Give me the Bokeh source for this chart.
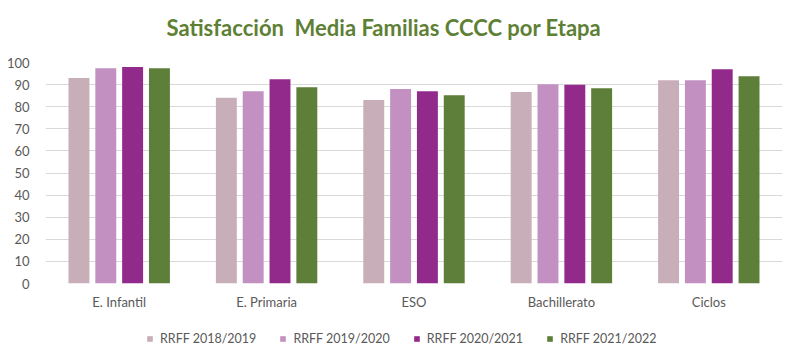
from bokeh.plotting import figure
from bokeh.layouts import column
from bokeh.models import (ColumnDataSource, FactorRange, Legend, LegendItem, SingleIntervalTicker,
                          Label, Range1d)
from bokeh.transform import dodge
from bokeh.embed import file_html
from bokeh.resources import INLINE

categories = ["E. Infantil", "E. Primaria", "ESO", "Bachillerato", "Ciclos"]
series_names = ["RRFF 2018/2019", "RRFF 2019/2020", "RRFF 2020/2021", "RRFF 2021/2022"]
s2018 = [93, 84, 83, 86.6, 92]
s2019 = [97.4, 87, 88, 90.2, 92]
s2020 = [98, 92.4, 87, 89.9, 97]
s2021 = [97.4, 88.8, 85.2, 88.4, 93.8]
colors = ["#C8AEB8", "#C291C2", "#922A8C", "#5E7F39"]
title_text = "Satisfacción\u00a0 Media Familias CCCC por Etapa"

FONT = "Lato"
W = 790

# --- title strip (its frame is aligned with the chart frame: x 45..782) ---
pt = figure(width=W, height=50, x_range=Range1d(45, 782), y_range=Range1d(50, 0),
            x_axis_type=None, y_axis_type=None, output_backend="svg",
            toolbar_location=None, min_border=0)
pt.outline_line_color = None
pt.add_layout(Label(x=166, y=27, text=title_text, text_font=FONT, text_font_size="22px",
                    text_font_style="bold", text_color="#5E8035", text_align="left",
                    text_baseline="alphabetic"))

# --- main chart ---
source = ColumnDataSource(dict(cat=categories, a=s2018, b=s2019, c=s2020, d=s2021))
p = figure(x_range=FactorRange(*categories), y_range=(0, 100),
           frame_width=737, frame_height=221,
           output_backend="svg", toolbar_location=None,
           min_border_left=45, min_border_right=8, min_border_top=12, min_border_bottom=30)
p.outline_line_color = None

offsets = [-0.273, -0.091, 0.091, 0.273]
for key, off, col in zip(["a", "b", "c", "d"], offsets, colors):
    p.vbar(x=dodge("cat", off, range=p.x_range), top=key, width=0.142,
           source=source, fill_color=col, line_color=None)

p.x_range.range_padding = 0
p.yaxis.ticker = SingleIntervalTicker(interval=10)
p.ygrid.grid_line_color = "#D9D9D9"
p.xgrid.grid_line_color = None
for ax in (p.xaxis[0], p.yaxis[0]):
    ax.axis_line_color = None
    ax.major_tick_line_color = None
    ax.minor_tick_line_color = None
    ax.major_label_text_font = FONT
    ax.major_label_text_color = "#595959"
    ax.major_label_text_font_size = "13px"
p.yaxis.major_label_standoff = 10
p.xaxis.major_label_standoff = 4

# --- legend strip ---
pl = figure(width=W, height=40, x_range=Range1d(0, 1), y_range=Range1d(0, 1),
            x_axis_type=None, y_axis_type=None, output_backend="svg",
            toolbar_location=None, min_border=0)
pl.outline_line_color = None
nan = float("nan")
leg_renderers = []
for c in colors:
    src = ColumnDataSource(dict(x=[nan], top=[nan]))
    leg_renderers.append(pl.vbar(x="x", top="top", width=0.1, source=src,
                                 fill_color=c, line_color=None))
legend = Legend(items=[LegendItem(label=n, renderers=[r]) for n, r in zip(series_names, leg_renderers)],
                orientation="horizontal", location=(101, 7),
                label_text_font=FONT, label_text_color="#595959", label_text_font_size="12.5px",
                glyph_width=7, glyph_height=7, spacing=23, label_standoff=7,
                border_line_color=None, background_fill_alpha=0, padding=4, margin=0)
pl.add_layout(legend, "center")

layout = column(pt, p, pl, spacing=0)
open("out.html", "w").write(file_html(layout, INLINE))
